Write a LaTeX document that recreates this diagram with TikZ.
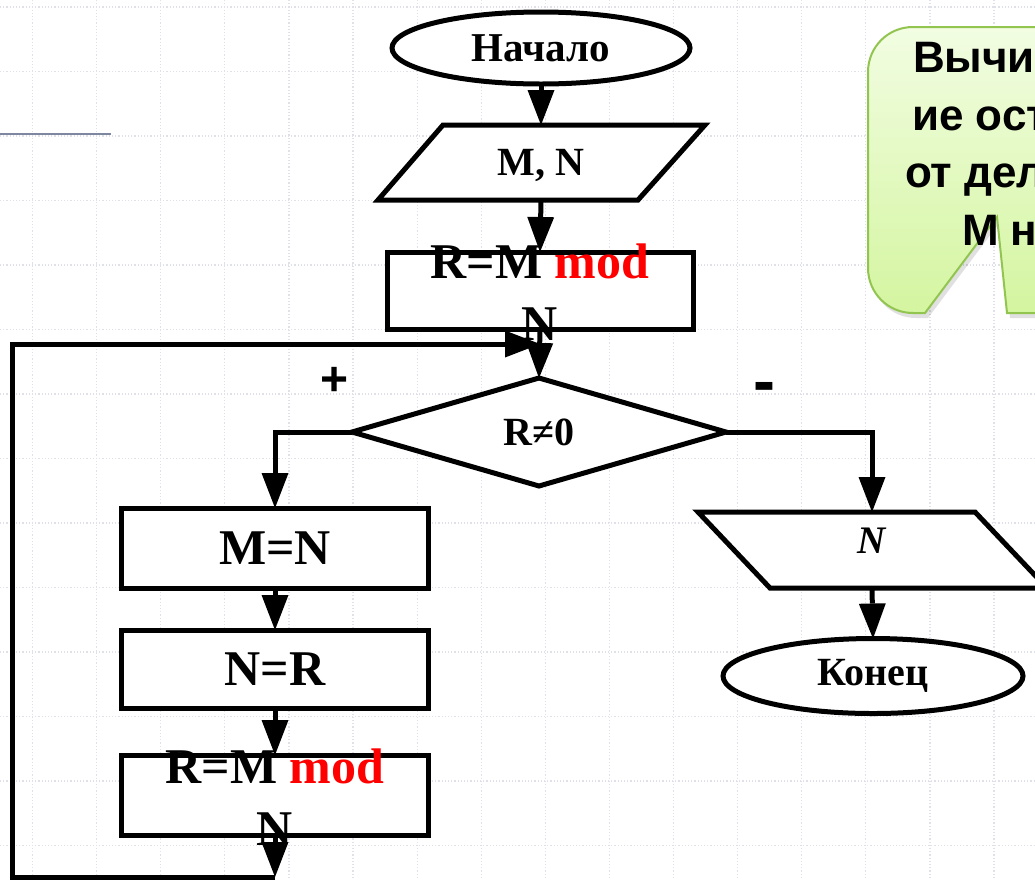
\documentclass[tikz,border=0pt]{standalone}
\usepackage{fontspec}
\setmainfont{Liberation Serif}
\newfontfamily\calloutfont{Liberation Sans}
\usetikzlibrary{shapes.geometric,arrows.meta}

\definecolor{gridcol}{RGB}{224,224,232}
\definecolor{rulecol}{RGB}{125,135,160}
\definecolor{calloutedge}{RGB}{146,196,80}
\definecolor{callouttop}{RGB}{242,253,226}
\definecolor{calloutbot}{RGB}{212,245,160}

\newcommand\fcLarge{\fontsize{50}{62}\selectfont\bfseries}
\newcommand\fcMed{\fontsize{40}{48}\selectfont\bfseries}

\begin{document}
\begin{tikzpicture}[x=1pt,y=-1pt,
  every node/.style={inner sep=0pt,outer sep=0pt},
  shape line/.style={draw=black,line width=5pt,fill=white},
  proc/.style={shape line,rectangle,minimum width=307pt,minimum height=78pt,font=\fcLarge},
  term/.style={shape line,ellipse,minimum width=298pt,minimum height=72pt,font=\fcMed},
  flow/.style={line width=5pt,-{Triangle[width=27pt,length=35pt,line width=0pt]}},
  gridline/.style={draw=gridcol,line width=1.2pt,dotted},
  cotext/.style={font={\calloutfont\fontsize{44}{52}\selectfont\bfseries},anchor=base west},
  sign/.style={font={\calloutfont\fontsize{48}{56}\selectfont\bfseries}},
]
\useasboundingbox (0,0) rectangle (1035,879);
\clip (0,0) rectangle (1035,879);
\fill[white] (0,0) rectangle (1035,879);

% faint background grid
\foreach \gx in {0,...,15}
  \draw[gridline] ({32.5+64.1*\gx},0) -- ({32.5+64.1*\gx},879);
\foreach \gy in {0,...,13}
  \draw[gridline] (0,{7+64.5*\gy}) -- (1035,{7+64.5*\gy});
\draw[rulecol,line width=2pt] (0,134) -- (111,134);

% speech balloon with its notch
\fill[black,opacity=.12,shift={(3,5)}]
  (1045,27) -- (913,27) .. controls (888,27) and (868,47) .. (868,72)
  -- (868,268) .. controls (868,293) and (888,313) .. (913,313)
  -- (925,313) -- (997,217) -- (1007,313) -- (1045,313) -- cycle;
\draw[draw=calloutedge,line width=2pt,top color=callouttop,bottom color=calloutbot]
  (1045,27) -- (913,27) .. controls (888,27) and (868,47) .. (868,72)
  -- (868,268) .. controls (868,293) and (888,313) .. (913,313)
  -- (925,313) -- (997,217) -- (1007,313) -- (1045,313) -- cycle;
\node[cotext] (co1) at (913,72) {Вычислен};
\node[cotext] (co2) at (912,130) {ие остатка};
\node[cotext] (co3) at (905,187) {от деления};
\node[cotext] (co4) at (962,245) {М на N};

% main column
\node[term,font={\fontsize{41}{48}\selectfont\bfseries}] (start) at (541,48) {Начало};
\draw[shape line] (443,125) -- (705,125) -- (638,200) -- (378,200) -- cycle;
\node[font=\fcMed,minimum width=260pt,minimum height=75pt,text depth=0pt] (inp) at (541,162.5) {M, N};
\node[proc,minimum width=306pt,minimum height=77pt] (calc) at (540,290.5) {};
\node[font=\fcLarge,align=center] (calctext) at (540,292) {R=M \textcolor{red}{mod}\\N};
\node[shape line,diamond,minimum width=374pt,minimum height=108pt,font=\fcMed] (test) at (539,432) {R≠0};

% "yes" branch
\node[proc,minimum height=80pt] (asgM) at (275,548) {M=N};
\node[proc] (asgN) at (275,669) {N=R};
\node[proc,minimum height=80pt] (calc2) at (275,795) {};
\node[font=\fcLarge,align=center] (calc2text) at (275,797) {R=M \textcolor{red}{mod}\\N};

% "no" branch
\draw[shape line] (698,512) -- (975,512) -- (1047,588) -- (770,588) -- cycle;
\node[font={\fontsize{39}{46}\selectfont\bfseries\itshape},minimum width=280pt,minimum height=76pt,text depth=19pt] (out) at (872,550) {N};
\node[term,minimum width=300pt,minimum height=75pt] (stop) at (873,676) {Конец};

% branch signs
\node[sign] (plus) at (335,381) {+};
\node[sign,font={\calloutfont\fontsize{66}{70}\selectfont\bfseries}] (minus) at (764,393) {-};

% connectors
\coordinate (loopEnd) at (275,877);
\coordinate (loopLeft) at (12,877);
\coordinate (loopTop) at (12,344);
\coordinate (merge) at (540,344);

\draw[flow] (start.south) -- (inp.north);
\draw[flow] (inp.south) -- (calc.north);
\draw[flow] (calc.south) -- (test.north);
\draw[flow] (test.west) -| (asgM.north);
\draw[flow] (test.east) -| (out.north);
\draw[flow] (out.south) -- (stop.north);
\draw[flow] (asgM.south) -- (asgN.north);
\draw[flow] (asgN.south) -- (calc2.north);
\draw[flow] (calc2.south) -- (loopEnd);
\draw[flow] (loopEnd) -- (loopLeft) -- (loopTop) -- (merge);
\end{tikzpicture}
\end{document}
